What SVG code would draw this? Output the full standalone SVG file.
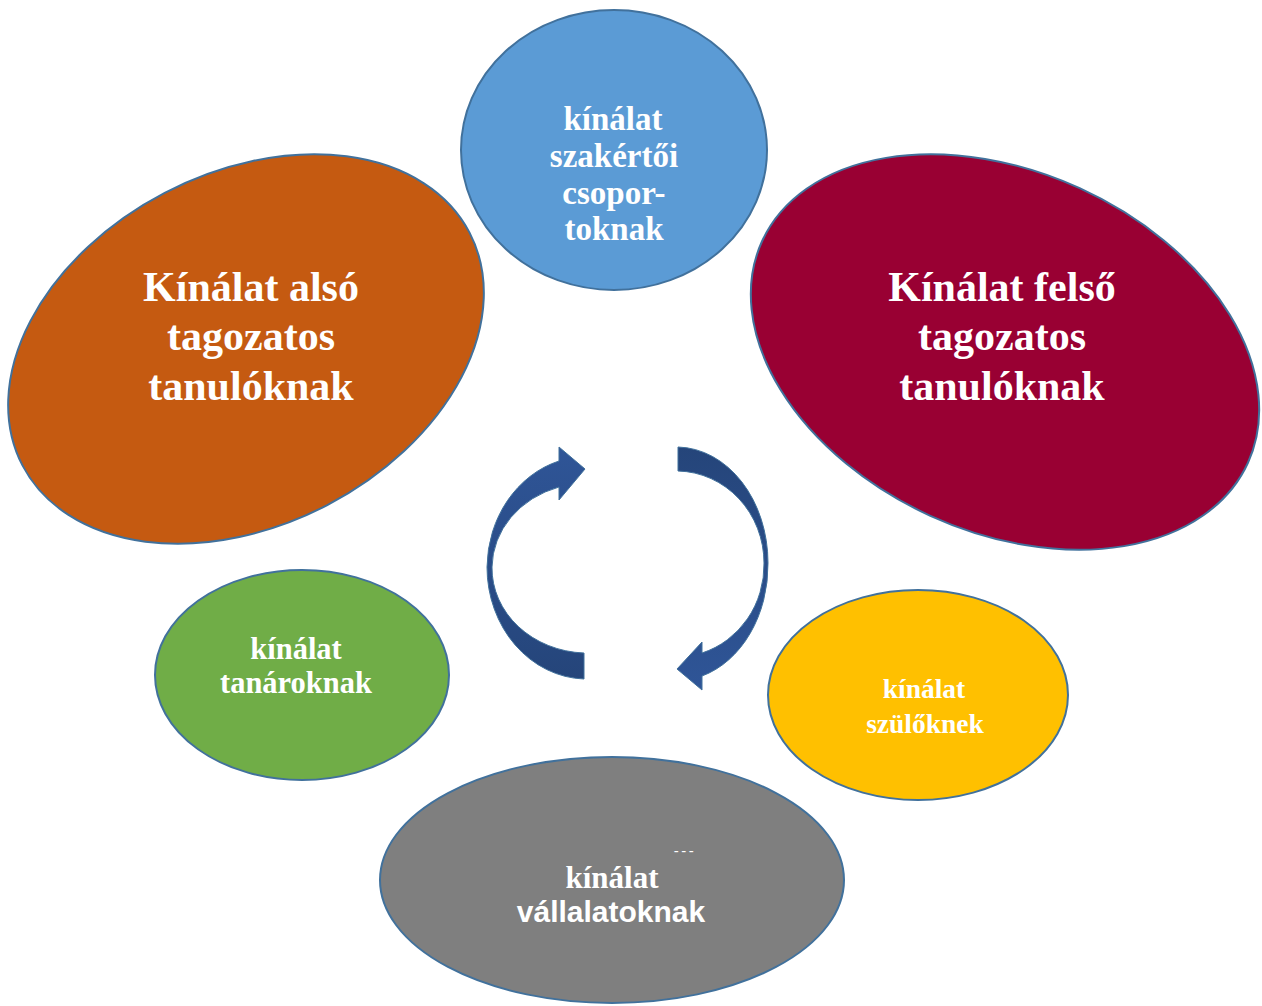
<svg xmlns="http://www.w3.org/2000/svg" width="1262" height="1006" viewBox="0 0 1262 1006">
<style>
.node{stroke:#41719c;stroke-width:2}
.serif{font-family:"Liberation Serif","Times New Roman",serif;font-weight:bold;fill:#fff;text-anchor:middle}
.sans{font-family:"Liberation Sans",Arial,sans-serif;font-weight:bold;fill:#fff;text-anchor:middle}
.arrow{stroke:#41719c;stroke-width:1}
</style>
<defs>
<linearGradient id="gl" x1="0" y1="0" x2="0" y2="1">
<stop offset="0" stop-color="#2f5597"/>
<stop offset="1" stop-color="#25457a"/>
</linearGradient>
<linearGradient id="gr" x1="0" y1="0" x2="0" y2="1">
<stop offset="0" stop-color="#25457a"/>
<stop offset="1" stop-color="#2f5597"/>
</linearGradient>
</defs>
<rect width="1262" height="1006" fill="#fff"/>
<g id="node-szakertoi">
<ellipse class="node" cx="614" cy="150" rx="153" ry="140" fill="#5b9bd5"/>
<text class="serif" font-size="33"><tspan x="613" y="130">kínálat</tspan><tspan x="614" y="167">szakértői</tspan><tspan x="614" y="204">csopor-</tspan><tspan x="614" y="240">toknak</tspan></text>
</g>
<g id="node-also">
<ellipse class="node" cx="246" cy="349" rx="252" ry="176" transform="rotate(-27.5 246 349)" fill="#c55a11"/>
<text class="serif" font-size="42"><tspan x="251" y="301">Kínálat alsó</tspan><tspan x="251" y="350">tagozatos</tspan><tspan x="251" y="400">tanulóknak</tspan></text>
</g>
<g id="node-felso">
<ellipse class="node" cx="1005" cy="352" rx="267" ry="180" transform="rotate(24.5 1005 352)" fill="#990033"/>
<text class="serif" font-size="42"><tspan x="1002" y="301">Kínálat felső</tspan><tspan x="1002" y="350">tagozatos</tspan><tspan x="1002" y="400">tanulóknak</tspan></text>
</g>
<g id="node-tanaroknak">
<ellipse class="node" cx="302" cy="675" rx="147" ry="105" fill="#70ad47"/>
<text class="serif" font-size="30.5"><tspan x="296" y="659">kínálat</tspan><tspan x="296" y="693">tanároknak</tspan></text>
</g>
<g id="node-szuloknek">
<ellipse class="node" cx="918" cy="695" rx="150" ry="105" fill="#ffc000"/>
<text class="serif" font-size="27.5"><tspan x="924" y="698">kínálat</tspan><tspan x="925" y="733">szülőknek</tspan></text>
</g>
<g id="node-vallalatoknak">
<ellipse class="node" cx="612" cy="880" rx="232" ry="123" fill="#7f7f7f"/>
<text font-family="Liberation Sans, Arial, sans-serif" font-size="15" fill="#fff" text-anchor="middle" x="685" y="856" letter-spacing="2.5">---</text>
<text class="serif" font-size="31" x="612" y="888">kínálat</text>
<text class="sans" font-size="30" x="611" y="922">vállalatoknak</text>
</g>
<g id="connectors">
<path class="arrow" fill="url(#gl)" d="M584,653 L584,679 A100 112 0 0 1 487,567 A100 112 0 0 1 559,461 L559,447 L585,469 L559,500 L559,487 A96 85 0 0 0 492,567 A96 85 0 0 0 584,653 Z"/>
<path class="arrow" fill="url(#gr)" d="M678,471 L678,447 A92 116 0 0 1 768,563 A92 116 0 0 1 702,676 L702,690 L677,669 L702,642 L702,653 A88 92 0 0 0 764,563 A88 92 0 0 0 678,471 Z"/>
</g>
</svg>
